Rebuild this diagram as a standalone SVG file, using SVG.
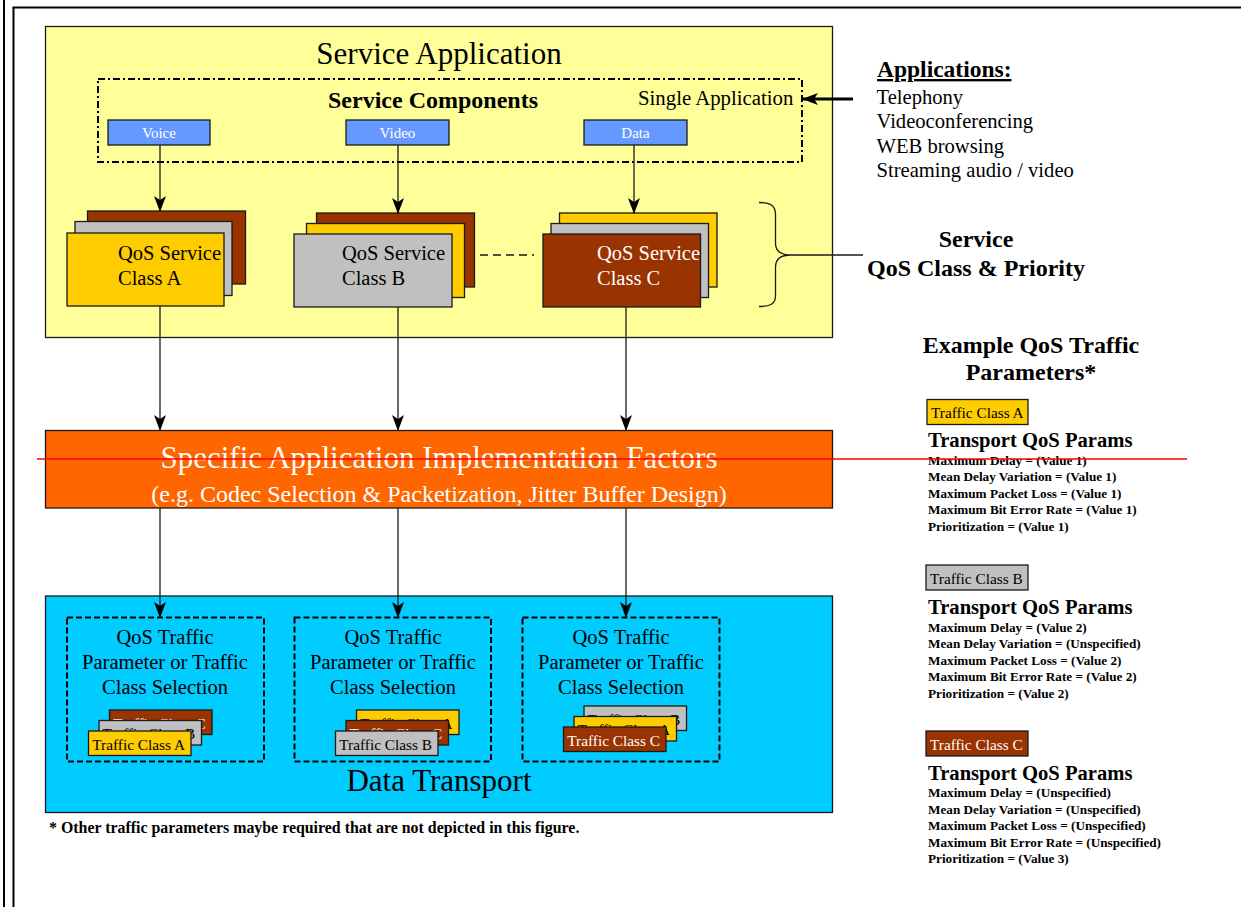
<svg xmlns="http://www.w3.org/2000/svg" width="1241" height="907" viewBox="0 0 1241 907">
<style>
text{font-family:"Liberation Serif","Times New Roman",serif;fill:#000}
.b{font-weight:bold}
.w{fill:#fff}
.box{stroke:#1a1a1a;stroke-width:1.3}
.yel{fill:#ffcc00}.gry{fill:#c0c0c0}.brn{fill:#993300}
.ln{stroke:#1a1a1a;stroke-width:1.3;fill:none}
.tc{font-size:15.3px}
.p{font-size:13.2px;font-weight:bold}
.sel{font-size:20.5px;text-anchor:middle}
</style>
<defs>
<marker id="ah" viewBox="0 0 16 12" refX="15" refY="6" markerWidth="16" markerHeight="12" markerUnits="userSpaceOnUse" orient="auto">
<path d="M0,0 L16,6 L0,12 L4,6 z" fill="#000"/>
</marker>
<marker id="ah2" viewBox="0 0 16 12" refX="15" refY="6" markerWidth="16" markerHeight="12" markerUnits="userSpaceOnUse" orient="auto">
<path d="M0,0 L16,6 L0,12 L4,6 z" fill="#000"/>
</marker>
</defs>
<rect width="1241" height="907" fill="#fff"/>
<g id="frame" stroke="#000" stroke-width="2" fill="none">
<line x1="4" y1="0" x2="4" y2="907"/>
<line x1="13.5" y1="7.5" x2="13.5" y2="907"/>
<line x1="12.5" y1="7.5" x2="1241" y2="7.5"/>
</g>

<g id="service-application">
<rect x="45.5" y="26.5" width="787" height="311" fill="#ffff99" class="box"/>
<text x="439" y="64" font-size="31" text-anchor="middle">Service Application</text>
</g>
<g id="service-components">
<rect x="98" y="79" width="704" height="83" fill="none" stroke="#000" stroke-width="2" stroke-dasharray="7,3,2,3"/>
<text x="433" y="108" font-size="24" class="b" text-anchor="middle">Service Components</text>
<text x="638" y="105" font-size="20.8">Single Application</text>
</g>
<g id="voice"><rect x="108" y="120" width="102" height="25" fill="#6699ff" class="box"/><text x="159" y="138" font-size="15" class="w" text-anchor="middle">Voice</text></g>
<g id="video"><rect x="346" y="120" width="103" height="25" fill="#6699ff" class="box"/><text x="397.5" y="138" font-size="15" class="w" text-anchor="middle">Video</text></g>
<g id="data"><rect x="584" y="120" width="103" height="25" fill="#6699ff" class="box"/><text x="635.5" y="138" font-size="15" class="w" text-anchor="middle">Data</text></g>

<g id="qos-class-a">
<rect x="87.5" y="211" width="158" height="73" class="box brn"/>
<rect x="75" y="221.5" width="157" height="74" class="box gry"/>
<rect x="67" y="233" width="157" height="73" class="box yel"/>
<text x="118" y="260" font-size="20.5">QoS Service</text>
<text x="118" y="285" font-size="20.5">Class A</text>
</g>
<g id="qos-class-b">
<rect x="316.5" y="213" width="158" height="74" class="box brn"/>
<rect x="306.5" y="223.5" width="158" height="74" class="box yel"/>
<rect x="294" y="234" width="158" height="73" class="box gry"/>
<text x="342" y="260" font-size="20.5">QoS Service</text>
<text x="342" y="285" font-size="20.5">Class B</text>
</g>
<g id="qos-class-c">
<rect x="559.5" y="213" width="157.5" height="74" class="box yel"/>
<rect x="551" y="223.5" width="157.5" height="74" class="box gry"/>
<rect x="543" y="234" width="157.5" height="73" class="box brn"/>
<text x="597" y="260" font-size="20.5" class="w">QoS Service</text>
<text x="597" y="285" font-size="20.5" class="w">Class C</text>
</g>

<g id="brace-label">
<path class="ln" d="M759,202.5 C770,202.5 775.5,205 775.5,215 L775.5,243 C775.5,251 780,255 791,255 C780,255 775.5,259 775.5,267 L775.5,296 C775.5,304 770,306.5 759,306.5"/>
<text x="976" y="247" font-size="24" class="b" text-anchor="middle">Service</text>
<text x="976" y="276" font-size="24" class="b" text-anchor="middle">QoS Class &amp; Priority</text>
</g>

<g id="applications">
<text x="877" y="77" font-size="23.5" class="b" text-decoration="underline">Applications:</text>
<text x="876.5" y="103.5" font-size="20.6">Telephony</text>
<text x="876.5" y="128" font-size="20.6">Videoconferencing</text>
<text x="876.5" y="152.5" font-size="20.6">WEB browsing</text>
<text x="876.5" y="177" font-size="20.6">Streaming audio / video</text>
</g>

<g id="implementation-factors">
<rect x="45.5" y="430.5" width="787" height="77.5" fill="#ff6600" class="box"/>
<text x="439" y="468" font-size="31" class="w" text-anchor="middle">Specific Application Implementation Factors</text>
<text x="439" y="502" font-size="24" class="w" text-anchor="middle">(e.g. Codec Selection &amp; Packetization, Jitter Buffer Design)</text>
</g>

<g id="data-transport">
<rect x="45.5" y="596" width="787" height="216.5" fill="#00ccff" class="box"/>
<text x="439" y="791" font-size="31" text-anchor="middle">Data Transport</text>
</g>

<g id="selection-1">
<rect x="67" y="617.5" width="197" height="144" fill="none" stroke="#000" stroke-width="2" stroke-dasharray="6,3"/>
<text x="165" y="643.5" class="sel">QoS Traffic</text>
<text x="165" y="668.5" class="sel">Parameter or Traffic</text>
<text x="165" y="693.5" class="sel">Class Selection</text>
<rect x="109.5" y="710" width="102.5" height="24.5" class="box brn"/><text x="113" y="728.5" class="tc w">Traffic Class C</text>
<rect x="99" y="720.5" width="102.5" height="24.5" class="box gry"/><text x="102.5" y="739" class="tc">Traffic Class B</text>
<rect x="88.5" y="731" width="102.5" height="24.5" class="box yel"/><text x="92.3" y="749.5" class="tc">Traffic Class A</text>
</g>
<g id="selection-2">
<rect x="294.5" y="617.5" width="196.5" height="144" fill="none" stroke="#000" stroke-width="2" stroke-dasharray="6,3"/>
<text x="393" y="643.5" class="sel">QoS Traffic</text>
<text x="393" y="668.5" class="sel">Parameter or Traffic</text>
<text x="393" y="693.5" class="sel">Class Selection</text>
<rect x="356.5" y="710" width="102.5" height="24.5" class="box yel"/><text x="360" y="728.5" class="tc">Traffic Class A</text>
<rect x="346" y="720.5" width="102.5" height="24.5" class="box brn"/><text x="349.5" y="739" class="tc w">Traffic Class C</text>
<rect x="335.5" y="731" width="102.5" height="24.5" class="box gry"/><text x="339.3" y="749.5" class="tc">Traffic Class B</text>
</g>
<g id="selection-3">
<rect x="522.5" y="617.5" width="197" height="144" fill="none" stroke="#000" stroke-width="2" stroke-dasharray="6,3"/>
<text x="621" y="643.5" class="sel">QoS Traffic</text>
<text x="621" y="668.5" class="sel">Parameter or Traffic</text>
<text x="621" y="693.5" class="sel">Class Selection</text>
<rect x="584" y="706" width="102.5" height="24.5" class="box gry"/><text x="587.5" y="724.5" class="tc">Traffic Class B</text>
<rect x="574" y="716.5" width="102.5" height="24.5" class="box yel"/><text x="577.5" y="735" class="tc">Traffic Class A</text>
<rect x="563.5" y="727" width="102.5" height="24.5" class="box brn"/><text x="567.3" y="745.5" class="tc w">Traffic Class C</text>
</g>

<g id="footnote">
<text x="49" y="833" font-size="15.9" class="b">* Other traffic parameters maybe required that are not depicted in this figure.</text>
</g>

<g id="example-title">
<text x="1031" y="352.5" font-size="24" class="b" text-anchor="middle">Example QoS Traffic</text>
<text x="1031" y="380" font-size="24" class="b" text-anchor="middle">Parameters*</text>
</g>
<g id="legend-a">
<rect x="927" y="399.5" width="101" height="25" class="box yel"/>
<text x="931" y="418" class="tc">Traffic Class A</text>
<text x="928" y="447" font-size="20.6" class="b">Transport QoS Params</text>
<text x="928" y="464.5" class="p">Maximum Delay  = (Value 1)</text>
<text x="928" y="481" class="p">Mean Delay Variation = (Value 1)</text>
<text x="928" y="497.5" class="p">Maximum Packet Loss = (Value 1)</text>
<text x="928" y="514" class="p">Maximum Bit Error Rate = (Value 1)</text>
<text x="928" y="530.5" class="p">Prioritization = (Value 1)</text>
</g>
<g id="legend-b">
<rect x="926" y="565" width="102" height="25" class="box gry"/>
<text x="930" y="583.5" class="tc">Traffic Class B</text>
<text x="928" y="613.5" font-size="20.6" class="b">Transport QoS Params</text>
<text x="928" y="631.5" class="p">Maximum Delay  = (Value 2)</text>
<text x="928" y="648" class="p">Mean Delay Variation = (Unspecified)</text>
<text x="928" y="664.5" class="p">Maximum Packet Loss = (Value 2)</text>
<text x="928" y="681" class="p">Maximum Bit Error Rate = (Value 2)</text>
<text x="928" y="697.5" class="p">Prioritization = (Value 2)</text>
</g>
<g id="legend-c">
<rect x="926" y="731" width="102" height="25" class="box brn"/>
<text x="930" y="749.5" class="tc w">Traffic Class C</text>
<text x="928" y="780" font-size="20.6" class="b">Transport QoS Params</text>
<text x="928" y="797" class="p">Maximum Delay  = (Unspecified)</text>
<text x="928" y="813.5" class="p">Mean Delay Variation = (Unspecified)</text>
<text x="928" y="830" class="p">Maximum Packet Loss = (Unspecified)</text>
<text x="928" y="846.5" class="p">Maximum Bit Error Rate = (Unspecified)</text>
<text x="928" y="863" class="p">Prioritization = (Value 3)</text>
</g>

<g id="connectors">
<line class="ln" x1="160" y1="145" x2="160" y2="211" marker-end="url(#ah)"/>
<line class="ln" x1="398" y1="145" x2="398" y2="213" marker-end="url(#ah)"/>
<line class="ln" x1="634" y1="145" x2="634" y2="213" marker-end="url(#ah)"/>
<line class="ln" x1="480" y1="255" x2="534" y2="255" stroke-dasharray="8,5"/>
<line class="ln" x1="791" y1="255" x2="863" y2="255"/>
<line x1="853" y1="99" x2="803" y2="99" stroke="#000" stroke-width="3" marker-end="url(#ah2)"/>
<line class="ln" x1="160" y1="306" x2="160" y2="430" marker-end="url(#ah)"/>
<line class="ln" x1="398" y1="307" x2="398" y2="430" marker-end="url(#ah)"/>
<line class="ln" x1="626" y1="307" x2="626" y2="430" marker-end="url(#ah)"/>
<line class="ln" x1="160" y1="508" x2="160" y2="617" marker-end="url(#ah)"/>
<line class="ln" x1="398" y1="508" x2="398" y2="617" marker-end="url(#ah)"/>
<line class="ln" x1="626" y1="508" x2="626" y2="617" marker-end="url(#ah)"/>
</g>
<line id="red-line" x1="37" y1="459" x2="1187" y2="459" stroke="#ff0000" stroke-width="1.5"/>
</svg>
